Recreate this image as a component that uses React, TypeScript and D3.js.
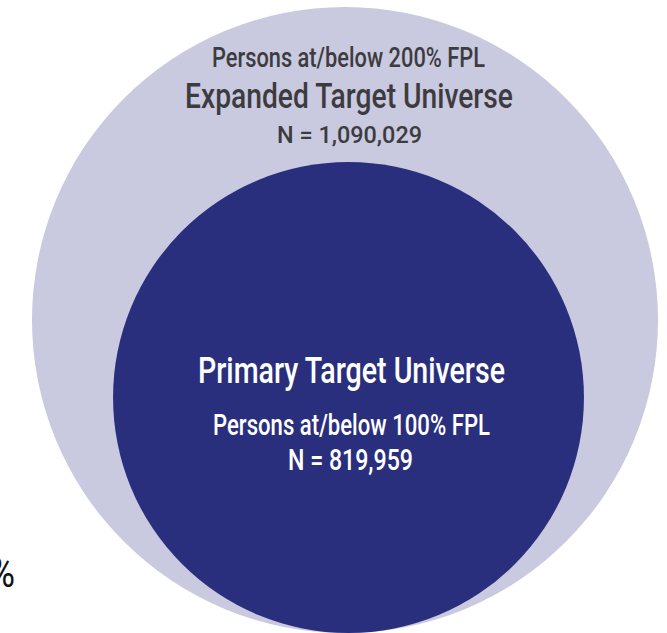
import * as d3 from "d3";
import { useEffect, useRef } from "react";

// universes, outer first
const universeNames = ["Expanded Target Universe", "Primary Target Universe"];
const universeRules = ["Persons at/below 200% FPL", "Persons at/below 100% FPL"];
const universeCounts = [1090029, 819959];
const universeColors = ["#c9c9df", "#2a2f7d"];
const labelColors = ["#3c3c40", "#ffffff"];

export default function App() {
  const svgRef = useRef(null);

  useEffect(() => {
    const width = 667;
    const height = 633;
    const baseY = 633; // circles sit on the same bottom line

    const svg = d3.select(svgRef.current).attr("width", width).attr("height", height);
    svg.selectAll("*").remove();

    // radius grows linearly with N
    const r = d3.scaleLinear().domain([0, universeCounts[0]]).range([0, 313]);
    const centersX = [345, 348.5];

    const data = universeCounts.map((n, i) => ({
      n,
      cx: centersX[i],
      cy: baseY - r(n),
      rad: r(n),
      color: universeColors[i],
    }));

    svg
      .selectAll("circle")
      .data(data)
      .enter()
      .append("circle")
      .attr("cx", (d) => d.cx)
      .attr("cy", (d) => d.cy)
      .attr("r", (d) => d.rad)
      .attr("fill", (d) => d.color);

    const fmt = d3.format(",");
    const font = "Roboto, 'Noto Sans', sans-serif";

    const addText = (txt, x, y, size, len, color, weight = 500) =>
      svg
        .append("text")
        .attr("x", x)
        .attr("y", y)
        .attr("text-anchor", "middle")
        .attr("font-family", font)
        .attr("font-size", size)
        .attr("font-weight", weight)
        .attr("fill", color)
        .attr("textLength", len)
        .attr("lengthAdjust", "spacingAndGlyphs")
        .text(txt);

    // outer labels
    addText(universeRules[0], 348.5, 67, 27, 273, labelColors[0]);
    addText(universeNames[0], 349, 108, 35.5, 328, labelColors[0]);
    addText("N = " + fmt(universeCounts[0]), 349.5, 143, 23.5, 145, labelColors[0]);

    // inner labels
    addText(universeNames[1], 351.5, 383, 36, 307, labelColors[1]);
    addText(universeRules[1], 351.5, 435, 30, 277, labelColors[1]);
    addText("N = " + fmt(universeCounts[1]), 350.5, 470, 30, 125, labelColors[1]);

    // clipped leftover from neighbouring graphic
    svg
      .append("text")
      .attr("x", 15)
      .attr("y", 587)
      .attr("text-anchor", "end")
      .attr("font-family", font)
      .attr("font-size", 42)
      .attr("fill", "#111")
      .attr("textLength", 26)
      .attr("lengthAdjust", "spacingAndGlyphs")
      .text("%");
  }, []);

  return <svg ref={svgRef} style={{ position: "absolute", left: 0, top: 0 }}></svg>;
}
